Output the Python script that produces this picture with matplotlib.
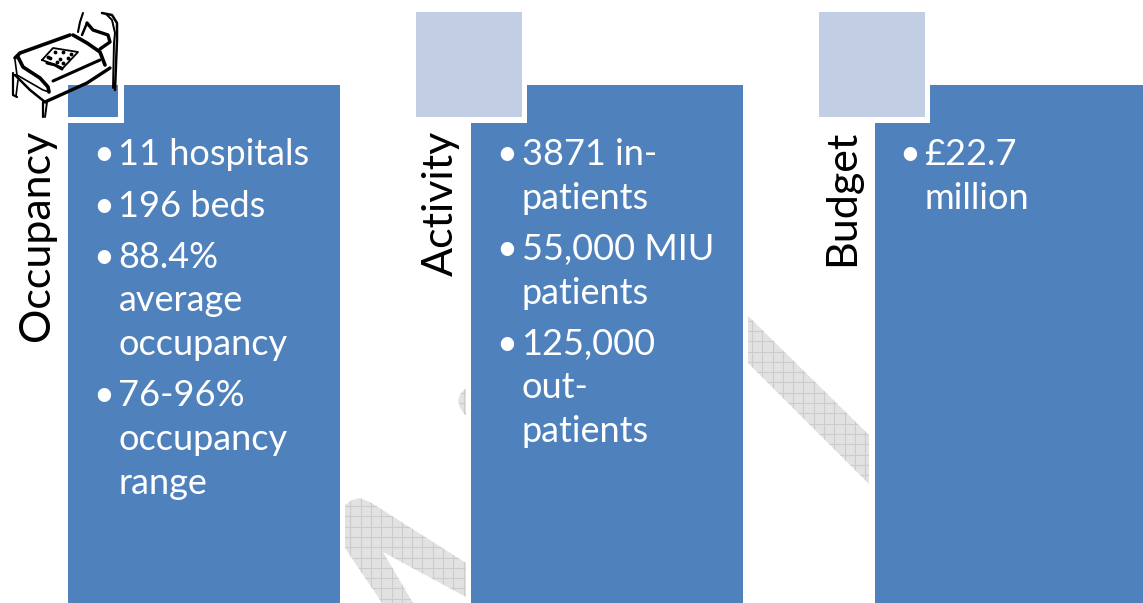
import matplotlib
matplotlib.use('Agg')
import matplotlib.pyplot as plt
from matplotlib.patches import Polygon, Rectangle

plt.rcParams['font.family'] = ['Lato', 'DejaVu Sans']

BLUE = '#4f81bd'
LIGHT = '#c2cee3'
GREY = '#e2e2e2'
GRID = '#cccccc'

titles = ['Occupancy', 'Activity', 'Budget']
occupancy_lines = ['11 hospitals', '196 beds', '88.4%', 'average', 'occupancy', '76-96%', 'occupancy', 'range']
occupancy_bullet = [True, True, True, False, False, True, False, False]
activity_lines = ['3871 in-', 'patients', '55,000 MIU', 'patients', '125,000', 'out-', 'patients']
activity_bullet = [True, False, True, False, True, False, False]
budget_lines = ['£22.7', 'million']
budget_bullet = [True, False]

# baselines in pixels
occupancy_y = [165, 217, 268, 311, 355, 406, 450, 494]
activity_y = [165, 209, 260, 304, 355, 398, 442]
budget_y = [165, 209]

fig = plt.figure(figsize=(11.43, 6.03), dpi=100)
ax = fig.add_axes([0, 0, 1, 1])
ax.set_xlim(0, 1143)
ax.set_ylim(603, 0)
ax.axis('off')


def hatched(points):
    poly = Polygon(points, closed=True, fc=GREY, ec='none', zorder=1)
    ax.add_patch(poly)
    xs = [p[0] for p in points]
    ys = [p[1] for p in points]
    x = 340
    while x < 880:
        if min(xs) <= x <= max(xs):
            l, = ax.plot([x, x], [min(ys), max(ys)], color=GRID, lw=0.8, zorder=1.5)
            l.set_clip_path(poly)
        x += 10.3
    y = 300
    while y < 610:
        if min(ys) <= y <= max(ys):
            l, = ax.plot([min(xs), max(xs)], [y, y], color=GRID, lw=0.8, zorder=1.5)
            l.set_clip_path(poly)
        y += 10.3


# grey arrow bits behind the panels
hatched([(345, 505), (352, 500), (360, 498), (370, 502), (466, 563), (466, 597), (383, 552),
         (413, 603), (382, 603), (345, 548)])
hatched([(466, 388), (461, 393), (458, 400), (460, 408), (466, 416)])
hatched([(748, 316), (869, 435), (869, 484), (748, 363)])

# panels
panel_x = [68, 471, 875]
panel_r = [340, 743, 1143]
notch_x = [124, 527, 930]
square_x = [13, 416, 819]
for i in range(3):
    x0 = panel_x[i]
    x1 = panel_r[i]
    ax.add_patch(Polygon([(x0, 123), (notch_x[i], 123), (notch_x[i], 85), (x1, 85), (x1, 603), (x0, 603)],
                         closed=True, fc=BLUE, ec='none', zorder=2))
    # small square sitting on the corner
    if i == 0:
        ax.add_patch(Rectangle((68, 85), 50, 32, fc=BLUE, ec='none', zorder=2))
    else:
        ax.add_patch(Rectangle((square_x[i], 12), 106, 105, fc=LIGHT, ec='none', zorder=3))

# bed clipart
bed_strokes = [
    ([(115, 90), (117, 40), (117, 23), (112, 15), (102, 13)], 1.8),
    ([(113, 88), (114, 43), (115, 33), (112, 20), (106, 14)], 1.4),
    ([(83, 13), (80, 22), (78, 32)], 1.5),
    ([(87, 23), (93, 30), (108, 35), (110, 42), (100, 49)], 2.4),
    ([(87, 23), (82, 35)], 1.8),
    ([(73, 35), (87, 43), (100, 52), (105, 65)], 2.6),
    ([(70, 35), (20, 53), (15, 58)], 2.6),
    ([(18, 57), (23, 67), (40, 78), (48, 87), (49, 92)], 2.6),
    ([(15, 60), (17, 75), (43, 90), (49, 92)], 1.2),
    ([(53, 81), (100, 60)], 2.2),
    ([(110, 68), (87, 83), (45, 102)], 2.4),
    ([(15, 75), (30, 90), (45, 102)], 1.8),
    ([(43, 102), (43, 117)], 1.6),
    ([(47, 102), (45, 117)], 1.4),
    ([(13, 73), (13, 95), (17, 97)], 1.6),
    ([(18, 80), (16, 96)], 1.2),
    ([(42, 60), (53, 48), (78, 52), (63, 68), (42, 60)], 1.3),
    ([(47, 63), (55, 65), (62, 69)], 2.2),
]
bed_dots = [(55, 52), (63, 52), (71, 54), (50, 58), (60, 59), (68, 58), (57, 62), (63, 63), (48, 57)]
for pts, w in bed_strokes:
    ax.plot([p[0] for p in pts], [p[1] for p in pts], color='black', lw=w,
            solid_capstyle='round', solid_joinstyle='round', zorder=5)
ax.scatter([p[0] for p in bed_dots], [p[1] for p in bed_dots], s=3, color='black', zorder=5)

# vertical titles
title_x = [37, 441, 842]
title_y = [341, 276, 266]
for i in range(3):
    ax.text(title_x[i], title_y[i], titles[i], rotation=90, ha='center', va='bottom',
            fontsize=31, color='black', zorder=6)

# bullet text
columns = [(occupancy_lines, occupancy_bullet, occupancy_y, 118.5),
           (activity_lines, activity_bullet, activity_y, 521.5),
           (budget_lines, budget_bullet, budget_y, 924.5)]
for lines, bullets, ys, tx in columns:
    for line, b, y in zip(lines, bullets, ys):
        ax.text(tx, y, line, fontsize=26, color='white', va='baseline', ha='left', zorder=6)
        if b:
            ax.text(tx - 25.5, y, '•', fontsize=26, color='white', va='baseline', ha='left', zorder=6)

fig.savefig('out.png', dpi=100)
